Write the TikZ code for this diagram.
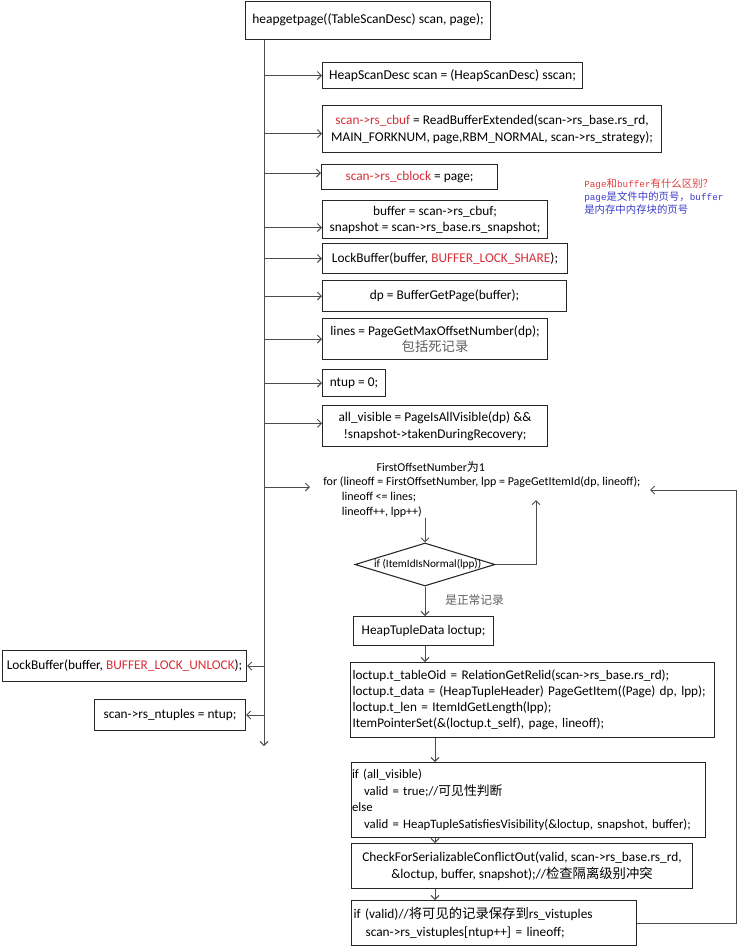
\documentclass[tikz,border=0pt]{standalone}
\usepackage{fontspec}
\setmainfont{Carlito}
\newfontfamily\cjk{Noto Sans CJK SC}
\newfontfamily\monolat{Liberation Mono}
\usetikzlibrary{arrows.meta,shapes.geometric}
\definecolor{cred}{RGB}{215,45,55}
\definecolor{nred}{RGB}{225,60,60}
\definecolor{nblue}{RGB}{60,60,200}
\definecolor{cgray}{RGB}{95,95,95}
\newcommand\hlred[1]{\textcolor{cred}{#1}}
\begin{document}
\begin{tikzpicture}[x=0.75pt,y=-0.75pt,
 every node/.style={font=\fontsize{10pt}{12.5pt}\selectfont},
 bx/.style={draw=black!85, line width=0.8pt, anchor=north west, inner sep=0pt},
 wh/.style 2 args={minimum width=#1*0.75pt, minimum height=#2*0.75pt},
 lt/.style={text width=#1*0.75pt, align=left},
 ln/.style={draw=black!70, line width=0.7pt},
 arr/.style={ln, -{Straight Barb[length=3pt,width=6pt]}},
]
\path[use as bounding box] (0,0) rectangle (737,946);

\node[bx, wh={245}{38}, font=\fontsize{10.1pt}{13pt}\selectfont] (top) at (245,0.5) {heapgetpage((TableScanDesc) scan, page);};
\coordinate (tend) at (264,746);
\draw[arr] (top.south -| tend) -- (tend);

\node[bx, wh={260}{26}, font=\fontsize{10.2pt}{12.5pt}\selectfont] (b1) at (322,62) {HeapScanDesc scan = (HeapScanDesc) sscan;};
\node[bx, wh={339}{47}, align=center, font=\fontsize{10pt}{12.75pt}\selectfont] (b2) at (322,105) {\hlred{scan->rs\_cbuf} = ReadBufferExtended(scan->rs\_base.rs\_rd,\\MAIN\_FORKNUM, page,RBM\_NORMAL, scan->rs\_strategy);};
\node[bx, wh={176}{25}] (b3) at (321,164) {\hlred{scan->rs\_cblock} = page;};
\node[bx, wh={225}{38}, align=center, font=\fontsize{10pt}{12pt}\selectfont] (b4) at (322,200) {buffer = scan->rs\_cbuf;\\snapshot = scan->rs\_base.rs\_snapshot;};
\node[bx, wh={245}{30}] (b5) at (322,243) {LockBuffer(buffer, \hlred{BUFFER\_LOCK\_SHARE});};
\node[bx, wh={244}{31}] (b6) at (322,280) {dp = BufferGetPage(buffer);};
\node[bx, wh={225}{41}, align=center, font=\fontsize{10pt}{12pt}\selectfont] (b7) at (322,318) {lines = PageGetMaxOffsetNumber(dp);\\{\cjk\color{cgray}包括死记录}};
\node[bx, wh={63}{27}] (b8) at (322,369) {ntup = 0;};
\node[bx, wh={225}{41}, align=center, font=\fontsize{10pt}{12.75pt}\selectfont] (b9) at (322,405) {all\_visible = PageIsAllVisible(dp) \&\&\\!snapshot->takenDuringRecovery;};

\draw[arr] (b1.west -| tend) -- (b1.west);
\draw[arr] ([yshift=-3.4pt]b2.west -| tend) -- ([yshift=-3.4pt]b2.west);
\draw[arr] ([yshift=3pt]b3.west -| tend) -- ([yshift=3pt]b3.west);
\draw[arr] ([yshift=-6pt]b4.west -| tend) -- ([yshift=-6pt]b4.west);
\draw[arr] (b5.west -| tend) -- (b5.west);
\draw[arr] (b6.west -| tend) -- (b6.west);
\draw[arr] (b7.west -| tend) -- (b7.west);
\draw[arr] (b8.west -| tend) -- (b8.west);
\draw[arr] ([yshift=2pt]b9.west -| tend) -- ([yshift=2pt]b9.west);

\node[anchor=north west, align=left, inner sep=0pt, font=\fontsize{7.8pt}{9.75pt}\selectfont] (note) at (584,178)
 {\textcolor{nred}{{\monolat\fontsize{7pt}{9.75pt}\selectfont Page}{\cjk 和}{\monolat\fontsize{7pt}{9.75pt}\selectfont buffer}{\cjk 有什么区别？}}\\
  \textcolor{nblue}{{\monolat\fontsize{7pt}{9.75pt}\selectfont page}{\cjk 是文件中的页号，}{\monolat\fontsize{7pt}{9.75pt}\selectfont buffer}}\\
  \textcolor{nblue}{\cjk 是内存中内存块的页号}};

\node[anchor=north west, align=left, inner sep=0pt, font=\fontsize{9pt}{11pt}\selectfont] (forst) at (323,461)
 {\hspace*{40pt}FirstOffsetNumber{\cjk 为}1\\
  for (lineoff = FirstOffsetNumber, lpp = PageGetItemId(dp, lineoff);\\
  \hspace*{14pt}lineoff <= lines;\\
  \hspace*{14pt}lineoff++, lpp++)};
\coordinate (fin) at (310,487);
\draw[arr] (fin -| tend) -- (fin);

\node[draw=black!85, line width=0.8pt, diamond, inner sep=0pt, wh={140}{43}] (dm) at (425,564.5) {};
\node[font=\fontsize{8.4pt}{10pt}\selectfont, inner sep=0pt] (dmt) at ([xshift=2pt]dm.center) {if (ItemIdIsNormal(lpp))};
\draw[arr] (dm.north |- forst.south) -- (dm.north);
\coordinate (up) at (536,500);
\draw[arr] (dm.east) -| (up);
\node[anchor=west, inner sep=0pt, font=\fontsize{8.8pt}{10pt}\selectfont, text=cgray] (lab) at (445,600) {\cjk 是正常记录};

\node[bx, wh={140}{29}] (b10) at (353,616) {HeapTupleData loctup;};
\draw[arr] (dm.south) -- (dm.south |- b10.north);

\node[bx, wh={364}{75}, lt={360}, font=\fontsize{9.9pt}{12pt}\selectfont] (b11) at (350,662)
 {loctup.t\_tableOid = RelationGetRelid(scan->rs\_base.rs\_rd);\\
  loctup.t\_data = (HeapTupleHeader) PageGetItem((Page) dp, lpp);\\
  loctup.t\_len = ItemIdGetLength(lpp);\\
  ItemPointerSet(\&(loctup.t\_self), page, lineoff);};
\draw[arr] (dm.south |- b10.south) -- (dm.south |- b11.north);

\coordinate (col) at (435,750);
\node[bx, wh={354}{75}, lt={353}, font=\fontsize{9.6pt}{12.4pt}\selectfont] (b12) at (351,762)
 {if (all\_visible)\\
  \hspace*{9pt}valid = true;//{\cjk 可见性判断}\\
  else\\
  \hspace*{9pt}valid = HeapTupleSatisfiesVisibility(\&loctup, snapshot, buffer);};
\draw[arr] (b11.south -| col) -- (b12.north -| col);

\node[bx, wh={341}{45}, align=center, font=\fontsize{10pt}{12.75pt}\selectfont] (b13) at (351,843)
 {CheckForSerializableConflictOut(valid, scan->rs\_base.rs\_rd,\\\&loctup, buffer, snapshot);//{\cjk 检查隔离级别冲突}};
\draw[arr] (b12.south -| col) -- (b13.north -| col);

\node[bx, wh={285}{45}, lt={281}, font=\fontsize{10pt}{13.5pt}\selectfont] (b14) at (351,900)
 {if (valid)//{\cjk 将可见的记录保存到}rs\_vistuples\\
  \hspace*{9pt}scan->rs\_vistuples[ntup++] = lineoff;};
\draw[arr] (b13.south -| col) -- (b14.north -| col);

\coordinate (rc) at (736,490);
\coordinate (rin) at (650,490);
\draw[arr] (b14.east) -| (rc) -- (rin);

\node[bx, wh={244}{31}] (bl1) at (2,650) {LockBuffer(buffer, \hlred{BUFFER\_LOCK\_UNLOCK});};
\node[bx, wh={151}{31}] (bl2) at (94,699) {scan->rs\_ntuples = ntup;};
\draw[arr] (bl1.east -| tend) -- (bl1.east);
\draw[arr] (bl2.east -| tend) -- (bl2.east);
\end{tikzpicture}
\end{document}
